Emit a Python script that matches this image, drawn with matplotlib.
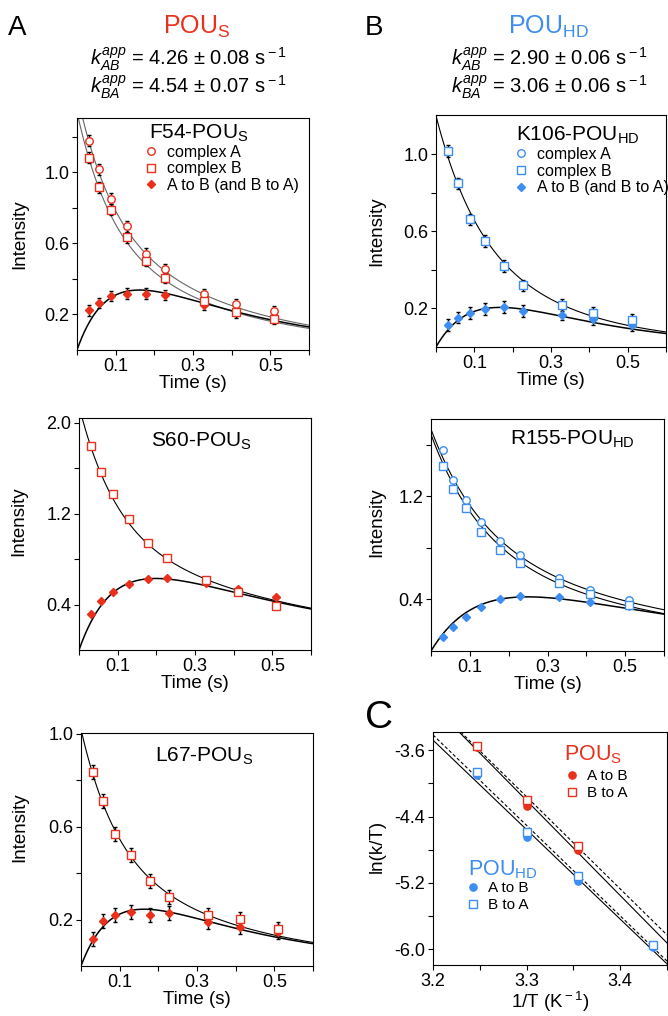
import numpy as np
import matplotlib
matplotlib.use('Agg')
import matplotlib.pyplot as plt
from matplotlib.lines import Line2D
from matplotlib.ticker import FormatStrFormatter

plt.rcParams['font.family'] = ['Liberation Sans', 'DejaVu Sans']
plt.rcParams['mathtext.fontset'] = 'custom'
plt.rcParams['mathtext.rm'] = 'Liberation Sans'
plt.rcParams['mathtext.it'] = 'Liberation Sans:italic'
plt.rcParams['mathtext.bf'] = 'Liberation Sans:bold'
plt.rcParams['axes.unicode_minus'] = False

RED = '#e8301c'
BLUE = '#3d8ef0'
TICK_FS = 13
LABEL_FS = 13.5

# mixing times (s), same for every residue
time = [0.031, 0.057, 0.089, 0.129, 0.178, 0.228, 0.329, 0.410, 0.510]

# exchange rates (s^-1): kAB, kBA and their errors
k_pous = [4.26, 4.54]
k_pous_err = [0.08, 0.07]
k_pouhd = [2.90, 3.06]
k_pouhd_err = [0.06, 0.06]

# F54-POUs
f54_a = [1.18, 1.018, 0.853, 0.697, 0.542, 0.454, 0.316, 0.258, 0.217]
f54_b = [1.083, 0.917, 0.79, 0.635, 0.502, 0.405, 0.276, 0.213, 0.174]
f54_x = [0.224, 0.265, 0.304, 0.318, 0.318, 0.31, 0.256, 0.22, 0.19]
f54_err = [0.03, 0.03, 0.03, 0.03, 0.03, 0.03, 0.03, 0.03, 0.03]
f54_amp = [1.446, 1.34, 0.70]      # fit amplitude: auto A, auto B, cross
f54_r1 = [2.8, 2.8, 2.8]           # fit decay rate: auto A, auto B, cross

# S60-POUs
s60_b = [1.792, 1.562, 1.371, 1.153, 0.938, 0.806, 0.615, 0.509, 0.386]
s60_x = [0.318, 0.427, 0.506, 0.576, 0.621, 0.633, 0.588, 0.536, 0.465]
s60_amp = [None, 2.146, 1.1]
s60_r1 = [None, 1.738, 1.85]

# L67-POUs
l67_b = [0.836, 0.712, 0.568, 0.477, 0.366, 0.298, 0.218, 0.203, 0.160]
l67_x = [0.118, 0.195, 0.218, 0.231, 0.219, 0.227, 0.189, 0.167, 0.147]
l67_err = [0.03, 0.03, 0.03, 0.03, 0.03, 0.03, 0.03, 0.03, 0.03]
l67_amp = [None, 1.02, 0.503]
l67_r1 = [None, 2.645, 2.75]

# K106-POUhd
k106_b = [1.017, 0.849, 0.662, 0.549, 0.421, 0.320, 0.217, 0.175, 0.139]
k106_x = [0.113, 0.153, 0.177, 0.196, 0.208, 0.187, 0.168, 0.144, 0.113]
k106_err = [0.03, 0.03, 0.03, 0.03, 0.03, 0.03, 0.03, 0.03, 0.03]
k106_amp = [None, 1.2, 0.584]
k106_r1 = [None, 3.40, 3.49]

# R155-POUhd
r155_a = [1.563, 1.327, 1.172, 1.001, 0.851, 0.743, 0.565, 0.472, 0.392]
r155_b = [1.437, 1.257, 1.107, 0.926, 0.782, 0.684, 0.526, 0.439, 0.359]
r155_x = [0.108, 0.183, 0.263, 0.341, 0.400, 0.423, 0.418, 0.377, 0.352]
r155_amp = [1.72, 1.68, 0.84]
r155_r1 = [1.735, 1.776, 1.75]

# panel C: Eyring plot, 1/T (10^-3 K^-1) and ln(k/T)
inv_t = [3.2465, 3.300, 3.3547, 3.435]
pous_ab = [-3.56, -4.273, -4.80]
pous_ba = [-3.548, -4.20, -4.75]
pouhd_ab = [-3.90, -4.65, -5.18, -5.97]
pouhd_ba = [-3.861, -4.586, -5.114, -5.95]

W, H = 668, 1016
fig = plt.figure(figsize=(W / 100, H / 100), dpi=100)


def px_axes(x0, y0, x1, y1):
    return fig.add_axes([x0 / W, 1 - y1 / H, (x1 - x0) / W, (y1 - y0) / H])


def fig_text(x, y, s, **kw):
    fig.text(x / W, 1 - y / H, s, **kw)


def exchange_fit(t, k, amp, r1, kind):
    kab, kba = k
    kex = kab + kba
    pa, pb = kba / kex, kab / kex
    decay = amp * np.exp(-r1 * t)
    if kind == 'A':
        return decay * (pa + pb * np.exp(-kex * t))
    if kind == 'B':
        return decay * (pb + pa * np.exp(-kex * t))
    return decay * (1 - np.exp(-kex * t))


def style_axes(ax, ymajor, yminor, ylim, xlim=(0, 0.6)):
    ax.set_xlim(*xlim)
    ax.set_ylim(*ylim)
    ax.set_yticks(ymajor)
    ax.set_yticks(yminor, minor=True)
    ax.tick_params(which='both', direction='out', length=3.5, width=0.8,
                   top=False, right=False, labelsize=TICK_FS, pad=2)
    for s in ax.spines.values():
        s.set_linewidth(0.8)


def kinetics_panel(ax, k, color, a, b, x, amp, r1, err, title, title_y,
                   ymajor, yminor, ylim, ylab_pos, auto_color='k'):
    t_fit = np.linspace(0, 0.6, 400)
    for i, kind in enumerate(['A', 'B', 'X']):
        if amp[i] is None:
            continue
        lw = 1.1 if kind == 'X' else 0.8
        c = 'k' if kind == 'X' else auto_color
        ax.plot(t_fit, exchange_fit(t_fit, k, amp[i], r1[i], kind), color=c, lw=lw, zorder=2)
    for vals, mk, face, ms in [(x, 'D', color, 4.3), (a, 'o', 'white', 5.4), (b, 's', 'white', 5.2)]:
        if vals is None:
            continue
        if err is not None:
            ax.errorbar(time, vals, yerr=err, fmt='none', ecolor='k', elinewidth=1.0,
                        capsize=1.3, capthick=1.0, zorder=3)
        ax.plot(time, vals, mk, ms=ms, mfc=face, mec=color, mew=1.0, zorder=4, clip_on=False)

    style_axes(ax, ymajor, yminor, ylim)
    ax.set_xticks([0.1, 0.3, 0.5])
    ax.set_xticks([0, 0.2, 0.4, 0.6], minor=True)
    ax.set_xticklabels(['0.1', '0.3', '0.5'])
    ax.yaxis.set_major_formatter(FormatStrFormatter('%.1f'))
    ax.set_xlabel('Time (s)', fontsize=LABEL_FS, labelpad=0.5)
    ax.set_ylabel('Intensity', fontsize=LABEL_FS)
    ax.yaxis.set_label_coords(*ylab_pos)
    ax.text(title[1], title_y, title[0], transform=ax.transAxes, ha='center',
            va='baseline', fontsize=15)


def legend_handles(color):
    return [Line2D([], [], ls='none', marker='o', ms=5.4, mfc='white', mec=color, mew=1.0),
            Line2D([], [], ls='none', marker='s', ms=5.2, mfc='white', mec=color, mew=1.0),
            Line2D([], [], ls='none', marker='D', ms=4.3, mfc=color, mec=color, mew=1.0)]


labels3 = ['complex A', 'complex B', 'A to B (and B to A)']
leg_kw = dict(loc='upper left', frameon=False, fontsize=11.5, handlelength=1.0,
              handletextpad=0.5, labelspacing=0.1, borderpad=0, borderaxespad=0)

# ---- A: POUs ----
ax = px_axes(77, 118, 309, 350)
kinetics_panel(ax, k_pous, RED, f54_a, f54_b, f54_x, f54_amp, f54_r1, f54_err,
               ('F54-POU$_{\\rm S}$', 0.526), 0.9125, [0.2, 0.6, 1.0], [0.4, 0.8, 1.2],
               (0, 1.307), (-0.21, 0.5), auto_color='0.4')
ax.legend(legend_handles(RED), labels3, bbox_to_anchor=(0.285, 0.885), **leg_kw)

ax = px_axes(79, 418, 311, 650)
kinetics_panel(ax, k_pous, RED, None, s60_b, s60_x, s60_amp, s60_r1, None,
               ('S60-POU$_{\\rm S}$', 0.528), 0.877, [0.4, 1.2, 2.0], [0.8, 1.6],
               (0, 2.04), (-0.221, 0.554))

ax = px_axes(81, 733, 313, 966)
kinetics_panel(ax, k_pous, RED, None, l67_b, l67_x, l67_amp, l67_r1, l67_err,
               ('L67-POU$_{\\rm S}$', 0.53), 0.878, [0.2, 0.6, 1.0], [0.4, 0.8],
               (0, 1.004), (-0.227, 0.595))

# ---- B: POUhd ----
ax = px_axes(436, 115, 666, 347)
kinetics_panel(ax, k_pouhd, BLUE, None, k106_b, k106_x, k106_amp, k106_r1, k106_err,
               ('K106-POU$_{\\rm HD}$', 0.615), 0.888, [0.2, 0.6, 1.0], [0.4, 0.8],
               (0, 1.204), (-0.22, 0.5))
ax.legend(legend_handles(BLUE), labels3, bbox_to_anchor=(0.335, 0.862), **leg_kw)

ax = px_axes(431, 419, 664, 651)
kinetics_panel(ax, k_pouhd, BLUE, r155_a, r155_b, r155_x, r155_amp, r155_r1, None,
               ('R155-POU$_{\\rm HD}$', 0.607), 0.889, [0.4, 1.2], [0.8, 1.6],
               (0, 1.8), (-0.197, 0.554))

# ---- C: Eyring plot ----
ax = px_axes(433, 732, 667, 965)
x_fit = np.linspace(3.2, 3.45, 50)
for xs, ab, ba, color in [(inv_t[:3], pous_ab, pous_ba, RED), (inv_t, pouhd_ab, pouhd_ba, BLUE)]:
    p_ab = np.polyfit(xs, ab, 1)
    p_ba = np.polyfit(xs, ba, 1)
    ax.plot(x_fit, np.polyval(p_ab, x_fit), color='k', lw=0.8, zorder=2)
    ax.plot(x_fit, np.polyval(p_ba, x_fit), color='k', lw=0.8, ls=(0, (3, 2)), zorder=2)
    ax.plot(xs, ab, 'o', ms=5.2, mfc=color, mec=color, zorder=4)
    ax.plot(xs, ba, 's', ms=5.2, mfc='white', mec=color, mew=1.0, zorder=5)
style_axes(ax, [-6.0, -5.2, -4.4, -3.6], [-5.6, -4.8, -4.0], (-6.19, -3.38), xlim=(3.2, 3.45))
ax.set_xticks([3.2, 3.3, 3.4])
ax.set_xticks([3.25, 3.35, 3.45], minor=True)
ax.xaxis.set_major_formatter(FormatStrFormatter('%.1f'))
ax.yaxis.set_major_formatter(FormatStrFormatter('%.1f'))
ax.set_xlabel('1/T (K$^{\\rm -1}$)', fontsize=LABEL_FS, labelpad=0.5)
ax.set_ylabel('ln(k/T)', fontsize=LABEL_FS)
ax.yaxis.set_label_coords(-0.2, 0.51)


def eyring_handles(color):
    return [Line2D([], [], ls='none', marker='o', ms=5.2, mfc=color, mec=color),
            Line2D([], [], ls='none', marker='s', ms=5.2, mfc='white', mec=color, mew=1.0)]


c_kw = dict(loc='upper left', frameon=False, fontsize=11, handlelength=1.0,
            handletextpad=0.5, labelspacing=0.2, borderpad=0, borderaxespad=0)
leg = ax.legend(eyring_handles(RED), ['A to B', 'B to A'], bbox_to_anchor=(0.56, 0.84), **c_kw)
ax.add_artist(leg)
ax.legend(eyring_handles(BLUE), ['A to B', 'B to A'], bbox_to_anchor=(0.137, 0.36), **c_kw)
ax.text(0.683, 0.879, 'POU$_{\\rm S}$', transform=ax.transAxes, ha='center',
        va='baseline', fontsize=15.5, color=RED)
ax.text(0.30, 0.386, 'POU$_{\\rm HD}$', transform=ax.transAxes, ha='center',
        va='baseline', fontsize=15.5, color=BLUE)

# ---- header texts ----
fig_text(8, 35, 'A', fontsize=20, va='baseline')
fig_text(365, 35, 'B', fontsize=20, va='baseline')
fig_text(365, 728, 'C', fontsize=28, va='baseline')
fig_text(196.7, 34.3, 'POU$_{\\rm S}$', fontsize=18, color=RED, ha='center', va='baseline')
fig_text(548.3, 34.3, 'POU$_{\\rm HD}$', fontsize=18, color=BLUE, ha='center', va='baseline')

for cx, k, kerr in [(188.3, k_pous, k_pous_err), (550, k_pouhd, k_pouhd_err)]:
    fig_text(cx, 65, '$k^{app}_{AB}$ = %.2f ± %.2f s$^{\\rm -1}$' % (k[0], kerr[0]),
             fontsize=14.5, ha='center', va='baseline')
    fig_text(cx, 93.3, '$k^{app}_{BA}$ = %.2f ± %.2f s$^{\\rm -1}$' % (k[1], kerr[1]),
             fontsize=14.5, ha='center', va='baseline')

fig.savefig('out.png', dpi=100)
